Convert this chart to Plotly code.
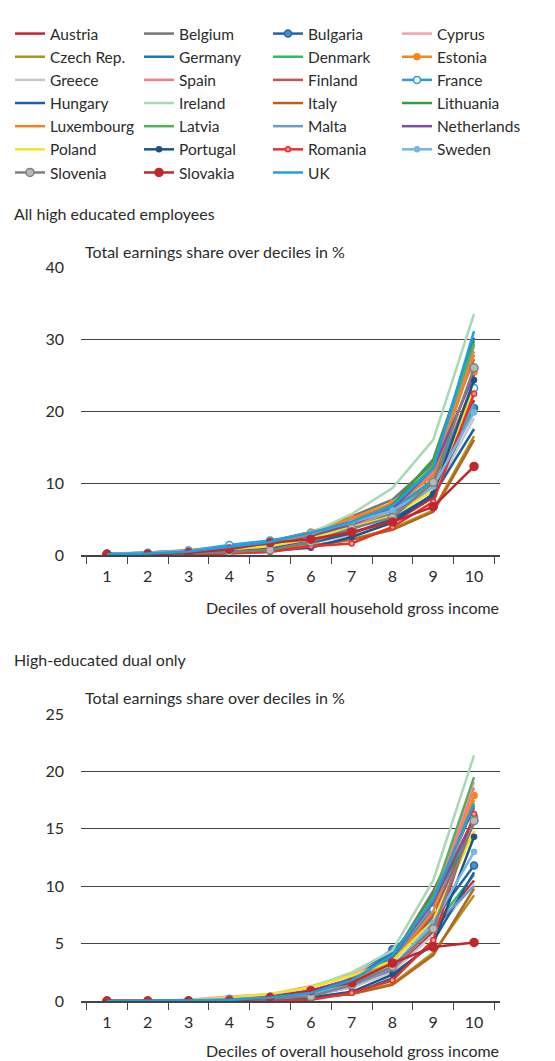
import plotly.graph_objects as go

# page body has an 8px margin, so the figure is drawn 8px in from the corner
OFF = 8
W, H = 555 - OFF, 1061 - OFF
FONT = "Lato"
TXT = "#2b2b2b"

deciles = ["1", "2", "3", "4", "5", "6", "7", "8", "9", "10"]

countries = ["Austria", "Belgium", "Bulgaria", "Cyprus",
             "Czech Rep.", "Germany", "Denmark", "Estonia",
             "Greece", "Spain", "Finland", "France",
             "Hungary", "Ireland", "Italy", "Lithuania",
             "Luxembourg", "Latvia", "Malta", "Netherlands",
             "Poland", "Portugal", "Romania", "Sweden",
             "Slovenia", "Slovakia", "UK"]

# Panel 1: All high educated employees (share in %, deciles 1..10)
all_high = {
    "Austria":     [0.1, 0.2, 0.4, 0.7, 1.1, 1.8, 2.9, 4.5, 8.0, 21.5],
    "Belgium":     [0.1, 0.3, 0.6, 1.0, 1.7, 3.0, 5.3, 7.7, 12.8, 27.2],
    "Bulgaria":    [0.0, 0.1, 0.2, 0.5, 0.9, 1.7, 3.0, 5.0, 8.4, 20.4],
    "Cyprus":      [0.1, 0.2, 0.5, 0.9, 1.5, 2.6, 4.2, 6.3, 11.5, 29.0],
    "Czech Rep.":  [0.0, 0.1, 0.2, 0.4, 0.7, 1.3, 2.2, 3.7, 6.2, 16.5],
    "Germany":     [0.1, 0.2, 0.5, 1.2, 1.9, 3.2, 4.8, 7.0, 12.3, 30.2],
    "Denmark":     [0.1, 0.2, 0.4, 0.8, 1.3, 2.3, 3.7, 5.8, 10.5, 20.5],
    "Estonia":     [0.1, 0.3, 0.7, 1.1, 1.8, 3.2, 5.1, 7.2, 11.0, 25.4],
    "Greece":      [0.0, 0.1, 0.3, 0.5, 0.9, 1.6, 2.8, 4.6, 8.5, 19.0],
    "Spain":       [0.1, 0.2, 0.4, 0.8, 1.4, 2.4, 4.0, 6.2, 11.5, 28.3],
    "Finland":     [0.1, 0.2, 0.4, 0.8, 1.3, 2.2, 3.6, 5.6, 10.0, 24.0],
    "France":      [0.2, 0.3, 0.6, 1.4, 2.0, 3.0, 4.4, 6.3, 10.5, 23.2],
    "Hungary":     [0.0, 0.1, 0.3, 0.6, 1.0, 1.7, 3.0, 5.0, 8.3, 17.5],
    "Ireland":     [0.1, 0.2, 0.5, 0.9, 1.6, 3.0, 5.7, 9.3, 16.0, 33.5],
    "Italy":       [0.0, 0.1, 0.2, 0.4, 0.7, 1.3, 2.1, 3.5, 6.0, 16.0],
    "Lithuania":   [0.1, 0.2, 0.4, 0.8, 1.4, 2.6, 4.3, 7.0, 13.3, 29.7],
    "Luxembourg":  [0.1, 0.3, 0.6, 1.0, 1.7, 2.9, 4.7, 6.8, 11.0, 27.8],
    "Latvia":      [0.1, 0.2, 0.4, 0.8, 1.4, 2.5, 4.2, 6.6, 12.5, 29.3],
    "Malta":       [0.1, 0.2, 0.4, 0.8, 1.3, 2.2, 3.6, 5.5, 9.5, 21.0],
    "Netherlands": [0.1, 0.2, 0.4, 0.8, 1.3, 2.5, 4.3, 6.4, 12.0, 25.0],
    "Poland":      [0.1, 0.2, 0.4, 0.8, 1.2, 2.3, 3.8, 5.4, 9.0, 23.0],
    "Portugal":    [0.0, 0.1, 0.2, 0.4, 0.6, 1.0, 2.5, 4.5, 8.5, 24.3],
    "Romania":     [0.0, 0.0, 0.1, 0.2, 0.4, 1.2, 1.6, 3.9, 7.4, 22.4],
    "Sweden":      [0.1, 0.3, 0.6, 1.1, 1.8, 3.1, 4.5, 6.2, 9.5, 19.8],
    "Slovenia":    [0.1, 0.1, 0.2, 0.4, 0.7, 1.8, 3.7, 5.2, 10.1, 26.0],
    "Slovakia":    [0.1, 0.1, 0.3, 0.8, 1.7, 2.2, 3.2, 4.6, 6.7, 12.3],
    "UK":          [0.1, 0.2, 0.5, 1.1, 1.8, 3.1, 4.6, 6.8, 12.0, 31.1],
}

# Panel 2: High-educated dual only
dual_only = {
    "Austria":     [0.0, 0.0, 0.0, 0.1, 0.2, 0.5, 1.2, 2.6, 6.0, 10.5],
    "Belgium":     [0.0, 0.0, 0.05, 0.15, 0.4, 0.9, 1.9, 3.8, 9.6, 16.8],
    "Bulgaria":    [0.0, 0.0, 0.0, 0.05, 0.2, 0.6, 2.0, 4.5, 7.0, 11.8],
    "Cyprus":      [0.0, 0.0, 0.1, 0.4, 0.6, 1.3, 2.3, 4.0, 8.5, 19.1],
    "Czech Rep.":  [0.0, 0.0, 0.0, 0.05, 0.1, 0.3, 0.6, 1.5, 4.2, 9.2],
    "Germany":     [0.0, 0.0, 0.05, 0.1, 0.3, 0.8, 1.9, 4.2, 8.5, 17.0],
    "Denmark":     [0.0, 0.0, 0.05, 0.1, 0.3, 0.6, 1.4, 2.9, 6.4, 11.0],
    "Estonia":     [0.0, 0.0, 0.05, 0.2, 0.4, 0.9, 1.9, 3.5, 8.0, 17.9],
    "Greece":      [0.0, 0.0, 0.05, 0.1, 0.2, 0.5, 1.2, 2.5, 5.8, 10.2],
    "Spain":       [0.0, 0.0, 0.05, 0.2, 0.4, 0.9, 1.9, 3.7, 8.3, 18.6],
    "Finland":     [0.0, 0.0, 0.05, 0.15, 0.3, 0.7, 1.6, 3.4, 7.5, 15.5],
    "France":      [0.0, 0.0, 0.05, 0.2, 0.4, 0.8, 1.7, 3.6, 8.0, 16.0],
    "Hungary":     [0.0, 0.0, 0.0, 0.05, 0.1, 0.3, 0.6, 2.0, 5.2, 11.2],
    "Ireland":     [0.0, 0.0, 0.1, 0.2, 0.5, 1.2, 2.5, 4.4, 10.5, 21.4],
    "Italy":       [0.0, 0.0, 0.0, 0.05, 0.1, 0.3, 0.6, 1.4, 4.0, 9.8],
    "Lithuania":   [0.0, 0.0, 0.05, 0.1, 0.3, 0.8, 1.8, 3.8, 9.3, 14.5],
    "Luxembourg":  [0.0, 0.0, 0.05, 0.2, 0.4, 0.8, 1.7, 3.4, 7.8, 17.5],
    "Latvia":      [0.0, 0.0, 0.05, 0.15, 0.3, 0.8, 1.8, 3.9, 9.0, 19.5],
    "Malta":       [0.0, 0.0, 0.05, 0.1, 0.3, 0.6, 1.3, 2.8, 6.5, 10.0],
    "Netherlands": [0.0, 0.0, 0.05, 0.15, 0.4, 0.9, 1.9, 3.9, 8.6, 16.0],
    "Poland":      [0.0, 0.0, 0.05, 0.3, 0.6, 1.2, 2.2, 3.5, 7.0, 14.8],
    "Portugal":    [0.0, 0.0, 0.0, 0.05, 0.1, 0.3, 0.8, 2.3, 5.0, 14.3],
    "Romania":     [0.0, 0.0, 0.0, 0.0, 0.0, 0.1, 0.7, 1.8, 5.3, 16.3],
    "Sweden":      [0.0, 0.0, 0.05, 0.15, 0.3, 0.7, 1.5, 3.0, 6.8, 13.0],
    "Slovenia":    [0.0, 0.0, 0.0, 0.1, 0.2, 0.4, 1.4, 3.0, 6.3, 15.7],
    "Slovakia":    [0.0, 0.0, 0.0, 0.0, 0.3, 0.9, 1.6, 3.3, 4.7, 5.1],
    "UK":          [0.0, 0.0, 0.05, 0.1, 0.3, 0.7, 1.8, 4.0, 8.8, 17.2],
}

line_colors = {
    "Austria": "#c0272d", "Belgium": "#767676", "Bulgaria": "#2166ac",
    "Cyprus": "#f0a3a8", "Czech Rep.": "#a6951f", "Germany": "#1f77b4",
    "Denmark": "#2ebd6b", "Estonia": "#f7861c", "Greece": "#c8c8c8",
    "Spain": "#f47c7c", "Finland": "#c9504f", "France": "#2b9bd8",
    "Hungary": "#1f5f9f", "Ireland": "#a8d8b4", "Italy": "#b5651d",
    "Lithuania": "#3b9a48", "Luxembourg": "#f58220", "Latvia": "#55b05a",
    "Malta": "#6e99cc", "Netherlands": "#7a4fa3", "Poland": "#f2e41f",
    "Portugal": "#1f5287", "Romania": "#e8302c", "Sweden": "#74b6e6",
    "Slovenia": "#7f7f7f", "Slovakia": "#c1272d", "UK": "#1ea0e0",
}

# marker styles: (size, fill colour) for the countries that show markers
markers = {
    "Bulgaria": (7, "#4a90c8"),
    "Estonia": (6, "#f7861c"),
    "France": (7, "#ffffff"),
    "Portugal": (5, "#1f5287"),
    "Romania": (5, "#f5a09a"),
    "Sweden": (5, "#74b6e6"),
    "Slovenia": (8, "#b8b8b8"),
    "Slovakia": (8, "#c1272d"),
}

fig = go.Figure()


def add_panel(data, xa, ya, show):
    for c in countries:
        col = line_colors[c]
        kw = dict(mode="lines")
        if c in markers:
            sz, fill = markers[c]
            kw = dict(mode="lines+markers",
                      marker=dict(size=sz, color=fill, symbol="circle",
                                  line=dict(color=col, width=1.5)))
        fig.add_trace(go.Scatter(
            x=deciles, y=data[c], name=c, legendgroup=c, showlegend=show,
            line=dict(color=col, width=2.5), xaxis=xa, yaxis=ya, **kw))


add_panel(all_high, "x", "y", True)
add_panel(dual_only, "x2", "y2", False)


def px_x(p):
    return (p - OFF) / W


def px_y(p):
    return 1 - (p - OFF) / H


x_dom = [px_x(81), px_x(500)]
y1_dom = [px_y(555), px_y(267)]
y2_dom = [px_y(1001), px_y(714)]

xaxis_style = dict(
    type="category", tickson="boundaries", ticks="outside", ticklen=7,
    tickcolor="#444444", tickwidth=1.2, showline=True, linecolor="#444444",
    linewidth=1.5, showgrid=False, zeroline=False,
    tickfont=dict(family=FONT, size=16, color=TXT), ticklabelstandoff=6,
    fixedrange=True,
)
yaxis_style = dict(
    showgrid=True, gridcolor="#444444", gridwidth=1.2, zeroline=False,
    showline=False, ticks="", tickfont=dict(family=FONT, size=16, color=TXT),
    ticklabelstandoff=16, fixedrange=True,
)

fig.update_layout(
    width=W, height=H,
    margin=dict(l=0, r=0, t=0, b=0, autoexpand=False),
    paper_bgcolor="white", plot_bgcolor="white",
    font=dict(family=FONT, color=TXT),
    xaxis=dict(domain=x_dom, anchor="y", **xaxis_style),
    yaxis=dict(domain=y1_dom, anchor="x", range=[0, 40], dtick=10,
               **yaxis_style),
    xaxis2=dict(domain=x_dom, anchor="y2", **xaxis_style),
    yaxis2=dict(domain=y2_dom, anchor="x2", range=[0, 25], dtick=5,
                **yaxis_style),
    legend=dict(
        orientation="h", x=px_x(10), y=px_y(17), xanchor="left",
        yanchor="top", entrywidth=84, entrywidthmode="pixels",
        font=dict(family=FONT, size=15.5, color=TXT), tracegroupgap=0,
        itemwidth=30, bgcolor="rgba(0,0,0,0)",
    ),
    showlegend=True,
)

fig.add_shape(type="line", xref="paper", yref="paper",
              x0=px_x(12), x1=1, y0=px_y(5), y1=px_y(5),
              line=dict(color="#444444", width=2.5))

annots = [
    ("All high educated employees", 12, 213, "left"),
    ("Total earnings share over deciles in %", 83, 251, "left"),
    ("Deciles of overall household gross income", 501, 607, "right"),
    ("High-educated dual only", 12, 659, "left"),
    ("Total earnings share over deciles in %", 83, 697, "left"),
    ("Deciles of overall household gross income", 501, 1050, "right"),
]
for text, x, y, anchor in annots:
    fig.add_annotation(text=text, xref="paper", yref="paper",
                       x=px_x(x), y=px_y(y), xanchor=anchor, yanchor="middle",
                       showarrow=False,
                       font=dict(family=FONT, size=16, color=TXT))

fig.write_html("out.html")
